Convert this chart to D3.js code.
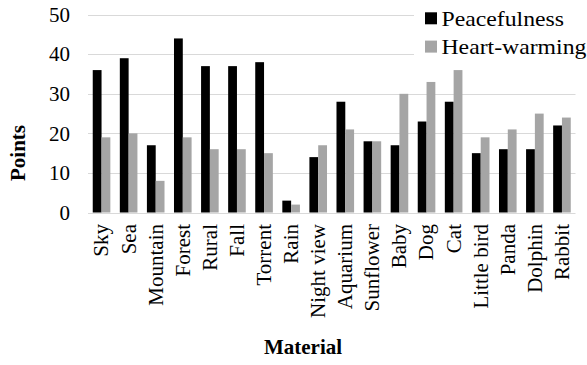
<!DOCTYPE html>
<html>
<head>
<meta charset="utf-8">
<script src="https://cdn.jsdelivr.net/npm/d3@7"></script>
<style>
  html, body { margin: 0; padding: 0; background: #fff; }
  svg { display: block; }
</style>
</head>
<body>
<svg id="chart" width="587" height="365"></svg>
<script>
// Scores per material
const categories = ["Sky", "Sea", "Mountain", "Forest", "Rural", "Fall", "Torrent", "Rain",
  "Night view", "Aquarium", "Sunflower", "Baby", "Dog", "Cat", "Little bird", "Panda", "Dolphin", "Rabbit"];
const peacefulness = [36, 39, 17, 44, 37, 37, 38, 3, 14, 28, 18, 17, 23, 28, 15, 16, 16, 22];
const heartWarming = [19, 20, 8, 19, 16, 16, 15, 2, 17, 21, 18, 30, 33, 36, 19, 21, 25, 24];
const seriesNames = ["Peacefulness", "Heart-warming"];
const yTicks = [0, 10, 20, 30, 40, 50];

const colors = { "Peacefulness": "#000000", "Heart-warming": "#a5a5a5" };
const seriesValues = { "Peacefulness": peacefulness, "Heart-warming": heartWarming };
const FONT = "'Liberation Serif', 'Times New Roman', Times, serif";

const svg = d3.select("#chart");
const plot = { left: 88, right: 575.5, top: 14.7, bottom: 212.5 };

const x0 = d3.scaleBand()
  .domain(categories)
  .range([plot.left, plot.right])
  .paddingInner(0.35)
  .paddingOuter(0.175);

const x1 = d3.scaleBand()
  .domain(seriesNames)
  .range([0, x0.bandwidth()])
  .padding(0);

const y = d3.scaleLinear().domain([0, 50]).range([plot.bottom, plot.top]);

// Horizontal gridlines
svg.append("g")
  .selectAll("line")
  .data(yTicks)
  .join("line")
  .attr("x1", plot.left)
  .attr("x2", plot.right)
  .attr("y1", d => Math.round(y(d)) + 0.5)
  .attr("y2", d => Math.round(y(d)) + 0.5)
  .attr("stroke", "#d9d9d9")
  .attr("stroke-width", 1);

// Y axis labels
const yAxis = d3.axisLeft(y).tickValues(yTicks).tickSize(0).tickPadding(0);
const yg = svg.append("g")
  .attr("transform", `translate(70,0)`)
  .call(yAxis)
  .attr("font-family", FONT)
  .attr("font-size", 21);
yg.select(".domain").remove();
yg.selectAll("text").attr("fill", "#000");

// Bars
const groups = svg.append("g")
  .selectAll("g")
  .data(categories)
  .join("g")
  .attr("transform", d => `translate(${x0(d)},0)`);

groups.selectAll("rect")
  .data((d, i) => seriesNames.map(s => ({ s, v: seriesValues[s][i] })))
  .join("rect")
  .attr("x", d => x1(d.s))
  .attr("width", x1.bandwidth())
  .attr("y", d => y(d.v))
  .attr("height", d => y(0) - y(d.v))
  .attr("fill", d => colors[d.s]);

// X axis category labels (rotated)
svg.append("g")
  .attr("font-family", FONT)
  .attr("font-size", 21)
  .selectAll("text")
  .data(categories)
  .join("text")
  .attr("transform", d => `translate(${x0(d) + x0.bandwidth() / 2},224) rotate(-90)`)
  .attr("text-anchor", "end")
  .attr("dy", "0.33em")
  .attr("fill", "#000")
  .text(d => d);

// Axis titles
svg.append("text")
  .attr("transform", "translate(25,153) rotate(-90)")
  .attr("text-anchor", "middle")
  .attr("font-family", FONT)
  .attr("font-size", 21)
  .attr("font-weight", "bold")
  .text("Points");

svg.append("text")
  .attr("x", 303)
  .attr("y", 354)
  .attr("text-anchor", "middle")
  .attr("font-family", FONT)
  .attr("font-size", 21)
  .attr("font-weight", "bold")
  .text("Material");

// Legend
const legend = svg.append("g");
legend.append("rect")
  .attr("x", 414).attr("y", 0)
  .attr("width", 173).attr("height", 62)
  .attr("fill", "#fff");

const items = legend.selectAll("g.item")
  .data(seriesNames)
  .join("g")
  .attr("class", "item")
  .attr("transform", (d, i) => `translate(425,${12.3 + i * 28.3})`);

items.append("rect")
  .attr("width", 12).attr("height", 12)
  .attr("fill", d => colors[d]);

// legend labels are set slightly wider than the axis text
items.append("text")
  .attr("transform", "translate(16.5,13.4) scale(1.13,1)")
  .attr("font-family", FONT)
  .attr("font-size", 21)
  .attr("fill", "#000")
  .text(d => d);
</script>
</body>
</html>
